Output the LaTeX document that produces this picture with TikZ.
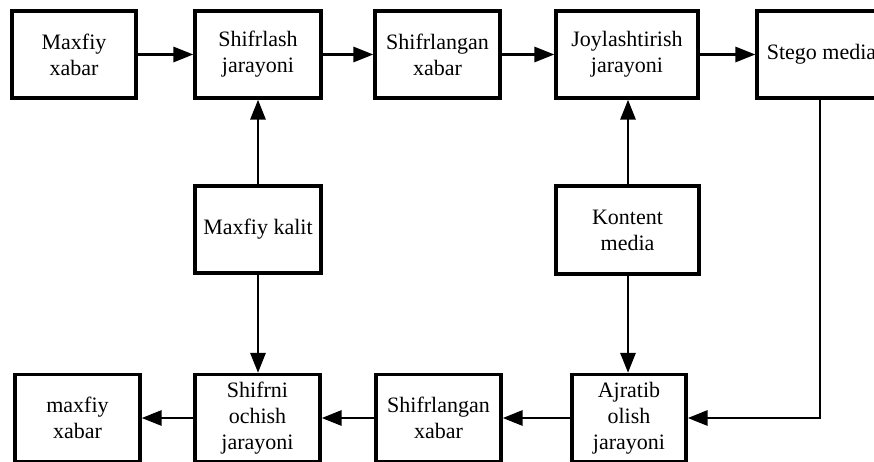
\documentclass[tikz,border=0pt]{standalone}
\usepackage{fontspec}
\setmainfont{Liberation Serif}
\usetikzlibrary{arrows.meta}
\begin{document}
\begin{tikzpicture}[x=1pt,y=1pt,
  box/.style={draw, line width=3.3pt, rectangle, inner sep=0pt, align=center,
    font=\fontsize{22}{26}\selectfont},
  conn/.style={line width=2.9pt, -{Triangle[length=20pt,width=15pt]}}]
\useasboundingbox (0,0) rectangle (874,-462);
\clip (0,0) rectangle (874,-462);
% top row
\node[box, minimum width=124, minimum height=87] (mx) at (74,-54.5) {Maxfiy\\xabar};
\node[box, minimum width=126, minimum height=87] (sj) at (258,-54.5) {Shifrlash\\jarayoni};
\node[box, minimum width=125, minimum height=87] (sx) at (437.5,-54.5) {Shifrlangan\\xabar};
\node[box, minimum width=142, minimum height=87] (jj) at (627,-54.5) {Joylashtirish\\jarayoni};
\node[box, minimum width=129, minimum height=87] (sm) at (821.5,-54.5) {Stego media};
% middle row
\node[box, minimum width=126, minimum height=87] (mk) at (258,-229.5) {Maxfiy kalit};
\node[box, minimum width=143, minimum height=88] (km) at (627.5,-230) {Kontent\\media};
% bottom row
\node[box, minimum width=125, minimum height=87] (bx) at (77.5,-418) {maxfiy\\xabar};
\node[box, minimum width=125, minimum height=87] (so) at (257.5,-418) {Shifrni\\ochish\\jarayoni};
\node[box, minimum width=125, minimum height=87] (bs) at (438.5,-418) {Shifrlangan\\xabar};
\node[box, minimum width=114, minimum height=87] (aj) at (629,-418) {Ajratib\\olish\\jarayoni};
\coordinate (c1) at (820,-418);
\coordinate (vk) at (258,0);
\coordinate (vm) at (628,0);
% connectors
\draw[conn] (mx.east) -- (sj.west);
\draw[conn] (sj.east) -- (sx.west);
\draw[conn] (sx.east) -- (jj.west);
\draw[conn] (jj.east) -- (sm.west);
\draw[conn] (mk.north -| vk) -- (sj.south -| vk);
\draw[conn] (mk.south -| vk) -- (so.north -| vk);
\draw[conn] (km.north -| vm) -- (jj.south -| vm);
\draw[conn] (km.south -| vm) -- (aj.north -| vm);
\draw[conn] (sm.south -| c1) -- (c1) -- (aj.east);
\draw[conn] (aj.west) -- (bs.east);
\draw[conn] (bs.west) -- (so.east);
\draw[conn] (so.west) -- (bx.east);
\end{tikzpicture}
\end{document}
